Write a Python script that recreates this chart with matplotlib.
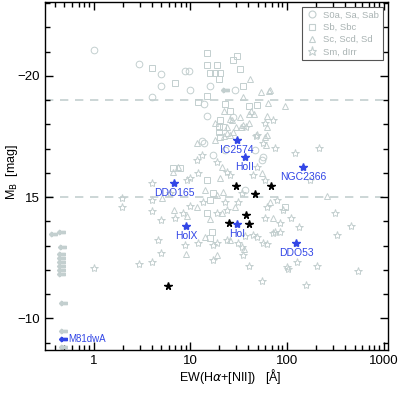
import matplotlib
matplotlib.use("Agg")
import matplotlib.pyplot as plt
from matplotlib.lines import Line2D
from matplotlib.ticker import FixedLocator, FixedFormatter, LogLocator, NullFormatter

plt.rcParams["font.family"] = ["Liberation Sans", "DejaVu Sans"]

# --- data: EW(Ha+[NII]) [A] and M_B [mag] ---
# S0a, Sa, Sab (circles)
circ_ew = [1.02, 2.98, 5.02, 8.9, 9.76, 5.02, 10.0, 16.1, 4.06, 13.9, 15.0, 29.1,
           27.7, 13.3, 17.2, 55.3, 56.6, 13.9, 23.0, 36.9, 46.8]
circ_mb = [-21.05, -20.51, -20.10, -20.19, -20.19, -19.57, -19.40, -19.57, -19.12,
           -18.83, -18.33, -19.44, -18.29, -17.30, -16.73, -16.52, -16.65, -17.22,
           -16.94, -15.29, -16.94]

# Sb, Sbc (squares)
sq_ew = [15.0, 15.0, 19.0, 27.7, 30.5, 4.06, 7.0, 16.1, 18.1, 20.4, 19.9, 32.7,
         35.1, 15.0, 12.1, 23.0, 40.6, 49.1, 25.8, 20.4, 19.9, 21.9, 20.4, 19.9,
         6.7, 7.9, 15.0, 17.2, 16.1, 16.1, 15.0, 95.3, 16.8]
sq_mb = [-20.93, -20.47, -20.47, -20.64, -20.84, -20.31, -19.69, -20.14, -20.14,
         -20.14, -19.86, -20.27, -19.57, -19.16, -18.91, -18.83, -18.74, -18.79,
         -18.54, -18.17, -17.88, -17.88, -17.47, -17.67, -16.19, -16.19, -15.70,
         -15.16, -14.88, -13.31, -14.34, -14.60, -13.56]

# Sc, Scd, Sd (triangles)
tri_ew = [41.6, 54.0, 65.3, 35.1, 63.8, 95.3, 66.9, 22.4, 25.8, 32.7, 40.6, 45.7,
          42.6, 18.1, 24.1, 29.8, 35.1, 27.1, 33.5, 40.6, 62.3, 59.4, 24.1, 27.7,
          62.3, 22.4, 25.8, 11.8, 62.3, 60.8, 55.3, 21.4, 20.4, 19.0, 21.9, 11.8,
          21.4, 29.1, 66.9, 7.5, 6.7, 5.14, 6.8, 9.3, 16.1, 14.2, 25.8, 19.0, 9.1,
          36.0, 258, 71.8, 14.2, 18.1]
tri_mb = [-19.86, -19.32, -19.36, -19.12, -18.87, -18.74, -19.40, -18.54, -18.21,
          -18.29, -18.42, -18.42, -18.54, -18.05, -17.88, -17.88, -17.96, -18.17,
          -17.88, -18.05, -17.88, -17.47, -17.63, -17.67, -18.33, -17.51, -17.55,
          -17.22, -17.55, -17.14, -15.99, -16.23, -15.78, -15.08, -15.21, -14.59,
          -14.34, -14.59, -14.79, -16.23, -16.03, -14.96, -14.47, -14.22, -14.09,
          -13.35, -13.23, -12.61, -12.65, -12.86, -15.04, -14.14, -15.29, -17.35]

# Sm, dIrr (stars)
star_ew = [37.8, 59.4, 71.8, 47.9, 49.1, 56.6, 75.3, 121, 213, 59.4, 172, 311,
           62.3, 59.4, 84.7, 133, 458, 75.3, 326, 56.6, 62.3, 100, 203, 540, 127,
           55.3, 157, 40.6, 17.2, 4.06, 2.98, 5.02, 1.02, 8.9, 12.1, 17.2, 24.1,
           31.2, 34.3, 35.1, 44.7, 49.1, 71.8, 84.7, 102, 4.06, 1.99, 1.99, 4.06,
           4.06, 5.02, 4.67, 19.0, 36.9, 10.0, 11.8, 12.1, 9.3, 6.2, 8.5, 10.0,
           7.0, 19.0, 78.9, 90.9, 110, 49.1, 44.7, 34.3, 31.2, 24.1, 13.6, 23.0,
           25.8, 24.1, 19.0, 13.3]
star_mb = [-17.88, -18.05, -18.17, -17.51, -17.55, -17.22, -17.02, -16.81, -17.02,
           -15.70, -15.70, -14.34, -14.59, -14.14, -13.93, -13.77, -13.81, -13.56,
           -13.44, -13.11, -13.07, -12.12, -12.16, -11.95, -12.33, -11.54, -11.38,
           -12.16, -12.41, -12.33, -12.24, -12.70, -12.08, -13.02, -13.11, -13.02,
           -13.23, -13.11, -12.94, -12.61, -13.44, -13.35, -13.52, -13.56, -12.04,
           -15.58, -14.96, -14.59, -14.88, -14.42, -14.05, -13.23, -13.11, -13.40,
           -15.78, -16.52, -15.99, -15.70, -15.16, -14.34, -14.63, -14.14, -14.34,
           -14.88, -14.47, -14.14, -16.23, -15.91, -15.16, -14.79, -14.47, -14.79,
           -14.79, -15.91, -16.03, -16.44, -16.73]

# upper limits on EW (left arrows)
lim_ew = [0.38, 0.46, 0.47, 0.46, 0.46, 0.46, 0.46, 0.46, 0.46, 0.48, 0.48, 0.48, 23.0]
lim_mb = [-13.48, -13.56, -12.94, -12.65, -12.49, -12.33, -12.16, -12.00, -11.83,
          -10.64, -9.49, -8.83, -19.44]

# black stars
blk_ew = [29.8, 46.8, 68.5, 37.8, 25.2, 40.6, 5.93]
blk_mb = [-15.45, -15.12, -15.45, -14.26, -13.93, -13.89, -11.34]

# named galaxies (blue)
named = ["IC2574", "HoII", "DDO165", "NGC2366", "HolX", "HoI", "DDO53"]
named_ew = [30.5, 36.9, 6.84, 146, 9.1, 30.5, 124]
named_mb = [-17.35, -16.65, -15.58, -16.23, -13.80, -13.90, -13.10]
m81dwa_ew = 0.48
m81dwa_mb = -9.16

GREY = "#c3cfcf"
BLUE = "#3246e6"

fig = plt.figure(figsize=(4.0, 3.94), dpi=100)
ax = fig.add_axes([0.1125, 0.1117, 0.8575, 0.8833])

for m in (-19, -15):
    ax.axhline(m, color=GREY, lw=1.2, ls=(0, (5, 4)), zorder=1)

kw = dict(ls="none", mfc="none", mec=GREY, mew=0.7, zorder=2)
ax.plot(circ_ew, circ_mb, marker="o", ms=4.8, **kw)
ax.plot(sq_ew, sq_mb, marker="s", ms=4.3, **kw)
ax.plot(tri_ew, tri_mb, marker="^", ms=4.8, **kw)
ax.plot(star_ew, star_mb, marker="*", ms=6, **kw)
ax.plot(lim_ew, lim_mb, ls="none", marker=r"$\Leftarrow$", ms=5.5, color=GREY, zorder=2)

ax.plot(blk_ew, blk_mb, ls="none", marker="*", ms=5.5, color="black", zorder=3)
ax.plot(named_ew, named_mb, ls="none", marker="*", ms=6, color=BLUE, zorder=3)
for name, x, y in zip(named, named_ew, named_mb):
    ax.annotate(name, (x, y), xytext=(0, -3.5), textcoords="offset points",
                ha="center", va="top", color=BLUE, fontsize=7.5)
ax.plot([m81dwa_ew], [m81dwa_mb], ls="none", marker=r"$\Leftarrow$", ms=5.5,
        color=BLUE, zorder=3)
ax.annotate("M81dwA", (m81dwa_ew, m81dwa_mb), xytext=(4, 0), textcoords="offset points",
            ha="left", va="center", color=BLUE, fontsize=7)

ax.set_xscale("log")
ax.set_xlim(0.315, 1110)
ax.set_ylim(-8.7, -23.05)

ax.xaxis.set_major_locator(FixedLocator([1, 10, 100, 1000]))
ax.xaxis.set_major_formatter(FixedFormatter(["1", "10", "100", "1000"]))
ax.xaxis.set_minor_locator(LogLocator(base=10, subs=range(2, 10)))
ax.xaxis.set_minor_formatter(NullFormatter())
ax.yaxis.set_major_locator(FixedLocator([-20, -15, -10]))
ax.yaxis.set_major_formatter(FixedFormatter(["\u221220", "15", "\u221210"]))
ax.yaxis.set_minor_locator(FixedLocator(range(-23, -8)))

ax.tick_params(which="both", direction="in", top=True, right=True, labelsize=9.5)
ax.tick_params(which="major", length=6, width=1)
ax.tick_params(which="minor", length=3.5, width=1)
for s in ax.spines.values():
    s.set_linewidth(1)

fig.text(12 / 400, 1 - 172 / 394, r"M$_{\rm B}$  [mag]", rotation=90,
         ha="center", va="center", fontsize=9)
fig.text(230 / 400, 1 - 377 / 394, r"EW(H$\alpha$+[NII])   [Å]",
         ha="center", va="center", fontsize=9)

handles = [
    Line2D([], [], ls="none", marker="o", ms=5, mfc="none", mec=GREY, mew=0.8),
    Line2D([], [], ls="none", marker="s", ms=4.5, mfc="none", mec=GREY, mew=0.8),
    Line2D([], [], ls="none", marker="^", ms=5, mfc="none", mec=GREY, mew=0.8),
    Line2D([], [], ls="none", marker="*", ms=6.5, mfc="none", mec=GREY, mew=0.8),
]
leg = ax.legend(handles, ["S0a, Sa, Sab", "Sb, Sbc", "Sc, Scd, Sd", "Sm, dIrr"],
                loc="upper right", bbox_to_anchor=(0.985, 0.986), borderaxespad=0,
                fontsize=6.8, labelcolor="#a9b3b3", fancybox=False, framealpha=1,
                handlelength=1.2, handletextpad=0.6, labelspacing=0.35,
                borderpad=0.4)
leg.get_frame().set_edgecolor("#555555")
leg.get_frame().set_linewidth(0.8)

fig.savefig("out.png", dpi=100)
